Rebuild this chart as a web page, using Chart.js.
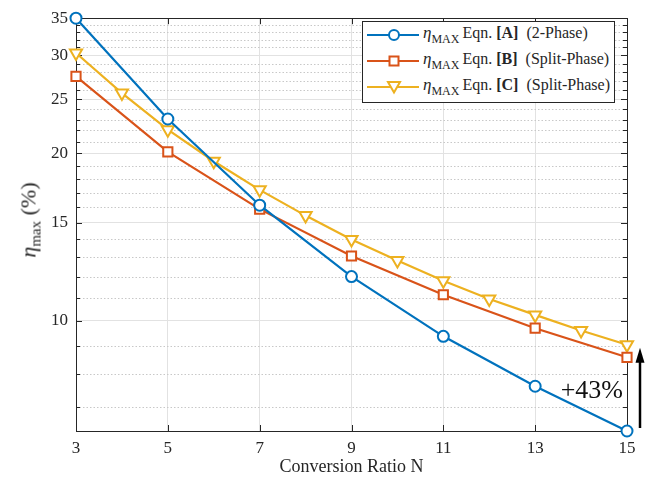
<!DOCTYPE html>
<html lang="en">
<head>
<meta charset="UTF-8">
<title>eta max vs Conversion Ratio N</title>
<script src="https://cdn.jsdelivr.net/npm/chart.js"></script>
<style>
  body { margin: 0; background: #fff; }
  .wrap { position: relative; width: 652px; height: 482px; font-family: "Liberation Serif", "Times New Roman", serif; color: #262626; }
  .ytitle { position: absolute; left: 30px; top: 220px; transform: translate(-50%, -50%) rotate(-90deg); font-size: 22px; white-space: nowrap; }
  .ytitle sub { font-size: 15px; vertical-align: -5px; }
  .legend { position: absolute; left: 362px; top: 21px; width: 251px; border: 1px solid #262626; background: #fff; padding: 0 0 2px 0; }
  .legend .row { height: 26px; display: flex; align-items: center; font-size: 16px; white-space: nowrap; }
  .legend svg { margin-left: 4px; margin-right: 4px; flex: none; }
  .legend i { font-size: 17px; }
  .legend sub { font-size: 12px; vertical-align: -5px; margin-right: 3px; }
</style>
</head>
<body>
<div class="wrap">
  <canvas id="chart" width="652" height="482"></canvas>
  <div class="ytitle"><i>η</i><sub>max</sub> (%)</div>
  <div class="legend" id="legend"></div>
</div>
<script>
// conversion ratio N
const nOdd = [3, 5, 7, 9, 11, 13, 15];
const nAll = [3, 4, 5, 6, 7, 8, 9, 10, 11, 12, 13, 14, 15];

// eta max (%)
const etaA = [35.0, 23.05, 16.13, 12.0, 9.37, 7.62, 6.33];
const etaB = [27.5, 20.12, 15.87, 13.07, 11.13, 9.69, 8.59];
const etaC = [30.3, 25.67, 22.05, 19.35, 17.19, 15.45, 14.0, 12.83, 11.8, 10.94, 10.24, 9.6, 9.05];

const seriesEqn = ['A', 'B', 'C'];
const seriesPhase = ['2-Phase', 'Split-Phase', 'Split-Phase'];
const colors = ['#0072BD', '#D95319', '#EDB120'];

const xTicks = [3, 5, 7, 9, 11, 13, 15];
const yTicks = [10, 15, 20, 25, 30, 35];
const yMinorTicks = [7, 8, 9, 11, 12, 13, 14, 16, 17, 18, 19, 21, 22, 23, 24, 26, 27, 28, 29, 31, 32, 33, 34];

const gainLabel = '+43%';

const yMin = Math.min(...etaA, ...etaB, ...etaC);
const yMax = Math.max(...etaA, ...etaB, ...etaC);

const toPoints = (xs, ys) => xs.map((x, i) => ({ x: x, y: ys[i] }));

const axisColor = '#262626';
const tickFont = { family: '"Liberation Serif", "Times New Roman", serif', size: 17 };

// minor dotted grid, box around plot, inward ticks, gain arrow
const framePlugin = {
    id: 'frame',
    beforeDatasetsDraw(chart) {
        const ctx = chart.ctx;
        const a = chart.chartArea;
        const xs = chart.scales.x, ys = chart.scales.y;
        ctx.save();
        // minor grid
        ctx.strokeStyle = '#c8c8c8';
        ctx.lineWidth = 1;
        ctx.setLineDash([1.5, 2]);
        ctx.beginPath();
        yMinorTicks.forEach(v => {
            const py = Math.round(ys.getPixelForValue(v)) + 0.5;
            ctx.moveTo(a.left, py); ctx.lineTo(a.right, py);
        });
        ctx.stroke();
        ctx.setLineDash([]);
        // ticks
        ctx.strokeStyle = axisColor;
        ctx.beginPath();
        xTicks.forEach(v => {
            const px = Math.round(xs.getPixelForValue(v)) + 0.5;
            ctx.moveTo(px, a.bottom); ctx.lineTo(px, a.bottom - 6);
            ctx.moveTo(px, a.top); ctx.lineTo(px, a.top + 6);
        });
        yTicks.forEach(v => {
            const py = Math.round(ys.getPixelForValue(v)) + 0.5;
            ctx.moveTo(a.left, py); ctx.lineTo(a.left + 6, py);
            ctx.moveTo(a.right, py); ctx.lineTo(a.right - 6, py);
        });
        yMinorTicks.forEach(v => {
            const py = Math.round(ys.getPixelForValue(v)) + 0.5;
            ctx.moveTo(a.left, py); ctx.lineTo(a.left + 4, py);
            ctx.moveTo(a.right, py); ctx.lineTo(a.right - 4, py);
        });
        ctx.stroke();
        ctx.strokeRect(Math.round(a.left) + 0.5, Math.round(a.top) + 0.5, Math.round(a.right - a.left), Math.round(a.bottom - a.top));
        ctx.restore();
    },
    afterDraw(chart) {
        const ctx = chart.ctx;
        const a = chart.chartArea;
        const ys = chart.scales.y;
        const yLow = ys.getPixelForValue(etaA[etaA.length - 1]);
        const yHigh = ys.getPixelForValue(etaC[etaC.length - 1]);
        const ax = a.right + 13;
        ctx.save();
        ctx.strokeStyle = '#000';
        ctx.fillStyle = '#000';
        ctx.lineWidth = 2.5;
        ctx.beginPath();
        ctx.moveTo(ax, yLow - 3);
        ctx.lineTo(ax, yHigh + 14);
        ctx.stroke();
        ctx.beginPath();
        ctx.moveTo(ax, yHigh + 3);
        ctx.lineTo(ax - 4.5, yHigh + 18);
        ctx.lineTo(ax + 4.5, yHigh + 18);
        ctx.closePath();
        ctx.fill();
        ctx.fillStyle = '#111';
        ctx.font = '26px "Liberation Serif", "Times New Roman", serif';
        ctx.textAlign = 'right';
        ctx.textBaseline = 'middle';
        ctx.fillText(gainLabel, a.right - 4, (yLow + yHigh) / 2 + 3);
        ctx.restore();
    }
};

const datasets = [
    { data: toPoints(nOdd, etaA), pointStyle: 'circle', pointRadius: 5.5, pointRotation: 0 },
    { data: toPoints(nOdd, etaB), pointStyle: 'rect', pointRadius: 6.5, pointRotation: 0 },
    { data: toPoints(nAll, etaC), pointStyle: 'triangle', pointRadius: 7, pointRotation: 180 }
].map((d, i) => Object.assign(d, {
    label: 'Eqn. [' + seriesEqn[i] + '] (' + seriesPhase[i] + ')',
    borderColor: colors[i],
    backgroundColor: colors[i],
    pointBorderColor: colors[i],
    pointBackgroundColor: '#fff',
    borderWidth: 2.2,
    pointBorderWidth: 2,
    tension: 0,
    clip: false
}));

new Chart(document.getElementById('chart'), {
    type: 'line',
    data: { datasets: datasets },
    options: {
        responsive: false,
        animation: false,
        layout: { padding: { top: 8, right: 25, left: 0, bottom: 0 } },
        plugins: { legend: { display: false }, tooltip: { enabled: false } },
        scales: {
            x: {
                type: 'linear',
                min: 3,
                max: 15,
                afterBuildTicks: s => { s.ticks = xTicks.map(v => ({ value: v })); },
                afterFit: s => { s.height = 51; },
                grid: { color: '#e2e2e2', drawTicks: false },
                border: { color: axisColor },
                ticks: { color: axisColor, font: tickFont, padding: 7, maxRotation: 0 },
                title: {
                    display: true,
                    text: 'Conversion Ratio N',
                    color: axisColor,
                    font: { family: tickFont.family, size: 18 },
                    padding: { top: 0, bottom: 4 }
                }
            },
            y: {
                type: 'logarithmic',
                min: yMin,
                max: yMax,
                afterBuildTicks: s => { s.ticks = yTicks.map(v => ({ value: v })); },
                afterFit: s => { s.width = 76; },
                grid: { color: '#e2e2e2', drawTicks: false },
                border: { color: axisColor },
                ticks: { color: axisColor, font: tickFont, padding: 8, callback: v => String(v) }
            }
        }
    },
    plugins: [framePlugin]
});

// legend with subscripted eta
const legendEl = document.getElementById('legend');
const markerSvg = [
    c => '<circle cx="27" cy="8" r="5" fill="#fff" stroke="' + c + '" stroke-width="2"/>',
    c => '<rect x="22.5" y="3.5" width="9" height="9" fill="#fff" stroke="' + c + '" stroke-width="2"/>',
    c => '<polygon points="21,3 33,3 27,13.4" fill="#fff" stroke="' + c + '" stroke-width="2"/>'
];
seriesEqn.forEach((eq, i) => {
    const row = document.createElement('div');
    row.className = 'row';
    row.innerHTML =
        '<svg width="52" height="16"><line x1="0" y1="8" x2="52" y2="8" stroke="' + colors[i] + '" stroke-width="2.2"/>' +
        markerSvg[i](colors[i]) + '</svg>' +
        '<span><i>η</i><sub>MAX</sub>Eqn. <b>[' + eq + ']</b>&nbsp; (' + seriesPhase[i] + ')</span>';
    legendEl.appendChild(row);
});
</script>
</body>
</html>
